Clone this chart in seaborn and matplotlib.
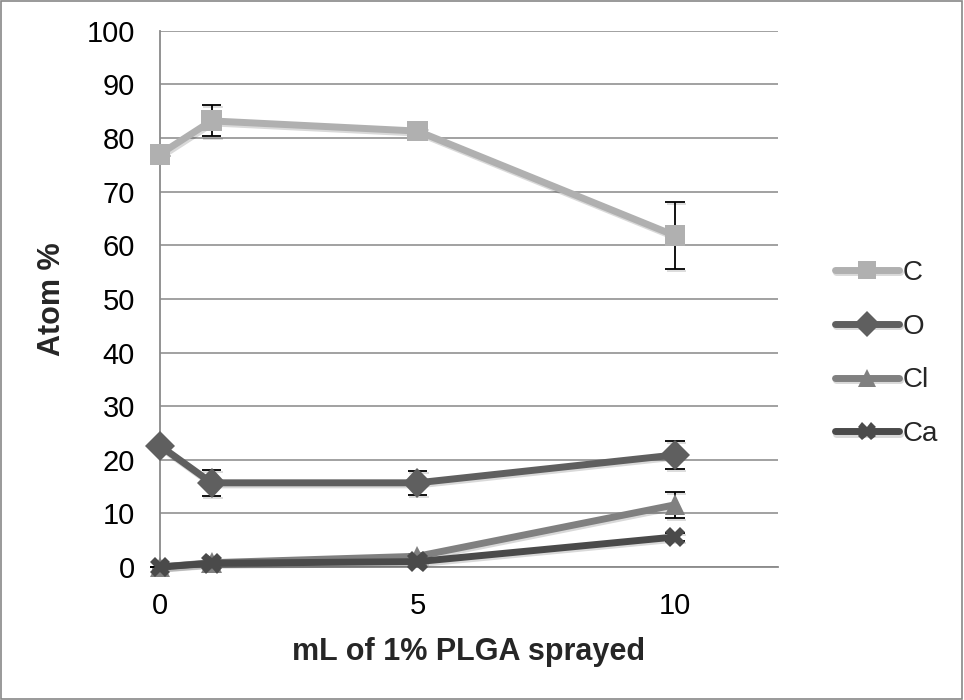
import pandas as pd
import seaborn as sns
import matplotlib.pyplot as plt
import matplotlib.patheffects as pe

volume = [0, 1, 5, 10]
elements = ["C", "O", "Cl", "Ca"]
c_vals = [77.0, 83.2, 81.3, 61.8]
o_vals = [22.6, 15.7, 15.7, 20.9]
cl_vals = [0.0, 0.8, 2.0, 11.6]
ca_vals = [0.0, 0.7, 1.0, 5.6]
c_err = [0.0, 2.9, 0.6, 6.2]
o_err = [0.0, 2.4, 2.2, 2.6]
cl_err = [0.0, 0.3, 0.5, 2.4]
ca_err = [0.0, 0.2, 0.3, 0.7]

rows = []
for el, vals, errs in zip(elements, [c_vals, o_vals, cl_vals, ca_vals],
                          [c_err, o_err, cl_err, ca_err]):
    for x, v, e in zip(volume, vals, errs):
        rows.append({"volume": x, "element": el, "atom": v, "err": e})
df = pd.DataFrame(rows)

sns.set_style("white")
plt.rcParams['font.family'] = ['Liberation Sans', 'DejaVu Sans']

colors = {"C": "#b0b0b0", "O": "#5f5f5f", "Cl": "#808080", "Ca": "#4a4a4a"}
markers = {"C": "s", "O": "D", "Cl": "^", "Ca": "X"}

fig = plt.figure(figsize=(9.64, 7.0), dpi=100)
ax = fig.add_axes([0.166, 0.19, 0.641, 0.766])

# error bars first so markers sit on top
for el in elements:
    sub = df[df["element"] == el]
    ax.errorbar(sub["volume"], sub["atom"], yerr=sub["err"], fmt="none",
                ecolor="black", elinewidth=1.3, capsize=7, capthick=1.3, zorder=2)

sns.lineplot(data=df, x="volume", y="atom", hue="element", style="element",
             palette=colors, markers=markers, dashes=False, linewidth=5,
             markersize=15, markeredgewidth=0, ax=ax, zorder=3)

shadow = [pe.SimpleLineShadow(offset=(1, -1.5), alpha=0.15), pe.Normal()]
for ln in ax.get_lines():
    ln.set_clip_on(False)
    if ln.get_marker() not in (None, "None", ""):
        ln.set_path_effects(shadow)
        ln.set_solid_capstyle("round")

ax.set_xlim(0, 12)
ax.set_ylim(0, 100)
ax.set_yticks(range(0, 101, 10))
ax.set_xticks([0, 5, 10])
ax.tick_params(axis="both", labelsize=21, colors="black", pad=8)
ax.tick_params(axis="both", length=10, color="#8a8a8a", width=1.3, direction="out")
ax.grid(axis="y", color="#9a9a9a", linewidth=1.3)
for s in ["top", "right"]:
    ax.spines[s].set_visible(False)
for s in ["left", "bottom"]:
    ax.spines[s].set_color("#8a8a8a")
    ax.spines[s].set_linewidth(1.3)
ax.set_axisbelow(True)

ax.set_xlabel("mL of 1% PLGA sprayed", fontsize=22, fontweight="bold", labelpad=12)
ax.set_ylabel("Atom %", fontsize=22, fontweight="bold", labelpad=14)

handles, labels = ax.get_legend_handles_labels()
for h in handles:
    h.set_markersize(13)
    h.set_linewidth(5)
    h.set_solid_capstyle("round")
ax.legend(handles, labels, loc="center left", bbox_to_anchor=(0.866, 0.495),
          bbox_transform=fig.transFigure, frameon=False, fontsize=20,
          handlelength=2.3, labelspacing=1.0, handletextpad=0.15,
          borderpad=0, borderaxespad=0)

fig.patches.append(plt.Rectangle((0.001, 0.001), 0.997, 0.997, transform=fig.transFigure,
                                 fill=False, edgecolor="#888888", linewidth=1.2))
fig.savefig("out.png", dpi=100)
